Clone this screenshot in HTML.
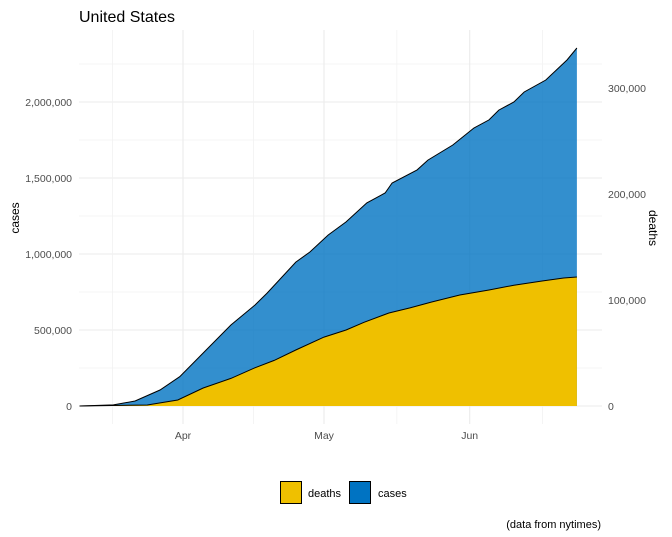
<!DOCTYPE html>
<html><head><meta charset="utf-8"><style>
body{margin:0;background:#fff;}
svg{display:block;font-family:"Liberation Sans",Arial,sans-serif;}
</style></head><body>
<svg id="chart" width="672" height="537" viewBox="0 0 672 537">
<text x="79" y="22" font-size="16" fill="#000">United States</text>
<g id="grid"></g>
<g id="areas"></g>
<g id="axes"></g>
<text transform="translate(19,218) rotate(-90)" text-anchor="middle" font-size="12" fill="#000">cases</text>
<text transform="translate(649,228) rotate(90)" text-anchor="middle" font-size="12" fill="#000">deaths</text>
<g>
<rect x="280.5" y="481.5" width="21" height="22" fill="#EFC000" stroke="#000" stroke-width="1"/>
<text x="308" y="497" font-size="11" fill="#000">deaths</text>
<rect x="349.5" y="481.5" width="21" height="22" fill="#0073C2" stroke="#000" stroke-width="1"/>
<text x="378" y="497" font-size="11" fill="#000">cases</text>
</g>
<text x="601" y="528" text-anchor="end" font-size="11" fill="#000">(data from nytimes)</text>
</svg>
<script>
// days offset from Apr 1
const caseDays = [-22,-14.8,-10.2,-4.9,-0.7,4.3,10.2,15.3,17.9,24,27,30.9,34.7,39.1,43,44.5,49.8,52.1,57.4,61.9,65.1,67.2,70.4,72.6,77.2,81.7,83.8];
const caseVals = [0,7000,33000,105000,193000,349000,533000,664000,743000,947000,1013000,1125000,1211000,1336000,1401000,1467000,1553000,1618000,1717000,1829000,1882000,1947000,2000000,2066000,2145000,2276000,2355000];
const deathDays = [-22,-7.6,-1.1,4.3,10.2,15.3,19.4,24,30,34.7,38.5,43.8,48.3,52.8,58.9,65.1,70.4,76.4,81,83.8];
const deathVals = [0,900,5700,17000,26000,36000,43000,52800,65000,71700,79000,87700,92500,98000,104700,109400,114000,117900,120800,121700];
const caseTicks = [0,500000,1000000,1500000,2000000];
const caseTickLabels = ["0","500,000","1,000,000","1,500,000","2,000,000"];
const deathTicks = [0,100000,200000,300000];
const deathTickLabels = ["0","100,000","200,000","300,000"];
const monthDays = [0,30,61];
const monthLabels = ["Apr","May","Jun"];
const minorDays = [-15,15,45.5,76.5];

const NS="http://www.w3.org/2000/svg";
const X0=79,X1=602,Y0=30,Y1=424;
const xs=d=>183+d*4.7;
const yc=v=>406-v/500000*76;
const yd=v=>406-v/100000*106;
function mk(tag,attrs,parent){const e=document.createElementNS(NS,tag);for(const k in attrs)e.setAttribute(k,attrs[k]);parent.appendChild(e);return e;}
const grid=document.getElementById('grid'),areas=document.getElementById('areas'),axes=document.getElementById('axes');
// horizontal grid
caseTicks.forEach((t,i)=>{
  const l=mk('line',{x1:X0,x2:X1,y1:yc(t),y2:yc(t),stroke:'#ebebeb','stroke-width':1.1},grid);
  
  
  const m=mk('line',{x1:X0,x2:X1,y1:yc(t+250000),y2:yc(t+250000),stroke:'#f2f2f2','stroke-width':0.8},grid);
  
  
  const tx=mk('text',{x:72,y:yc(t)+4,'text-anchor':'end','font-size':'10.5',fill:'#4d4d4d'},axes);
  tx.textContent=caseTickLabels[i];
  
  
});
deathTicks.forEach((t,i)=>{
  const tx=mk('text',{x:608,y:yd(t)+4,'text-anchor':'start','font-size':'10.5',fill:'#4d4d4d'},axes);
  tx.textContent=deathTickLabels[i];
  
  
});
monthDays.forEach((d,i)=>{
  const l=mk('line',{x1:xs(d),x2:xs(d),y1:Y0,y2:Y1,stroke:'#ebebeb','stroke-width':1.1},grid);
  
  
  const tx=mk('text',{x:xs(d),y:439,'text-anchor':'middle','font-size':'10.5',fill:'#4d4d4d'},axes);
  tx.textContent=monthLabels[i];
  
  
});
minorDays.forEach(d=>{
  const l=mk('line',{x1:xs(d),x2:xs(d),y1:Y0,y2:Y1,stroke:'#f2f2f2','stroke-width':0.8},grid);
  
  
});
function area(days,vals,ys,fill,name){
  let p=days.map((d,i)=>`${xs(d).toFixed(1)},${ys(vals[i]).toFixed(1)}`).join(' L');
  const last=xs(days[days.length-1]).toFixed(1),first=xs(days[0]).toFixed(1);
  const a=mk('path',{d:`M${first},${ys(0)} L${p} L${last},${ys(0)} Z`,fill:fill},areas);
  
  
  const ln=mk('path',{d:`M${p}`,fill:'none',stroke:'#000','stroke-width':1},areas);
  
  
}
area(caseDays,caseVals,yc,'rgba(0,115,194,0.8)','cases');
area(deathDays,deathVals,yd,'#EFC000','deaths');
</script>
</body></html>
